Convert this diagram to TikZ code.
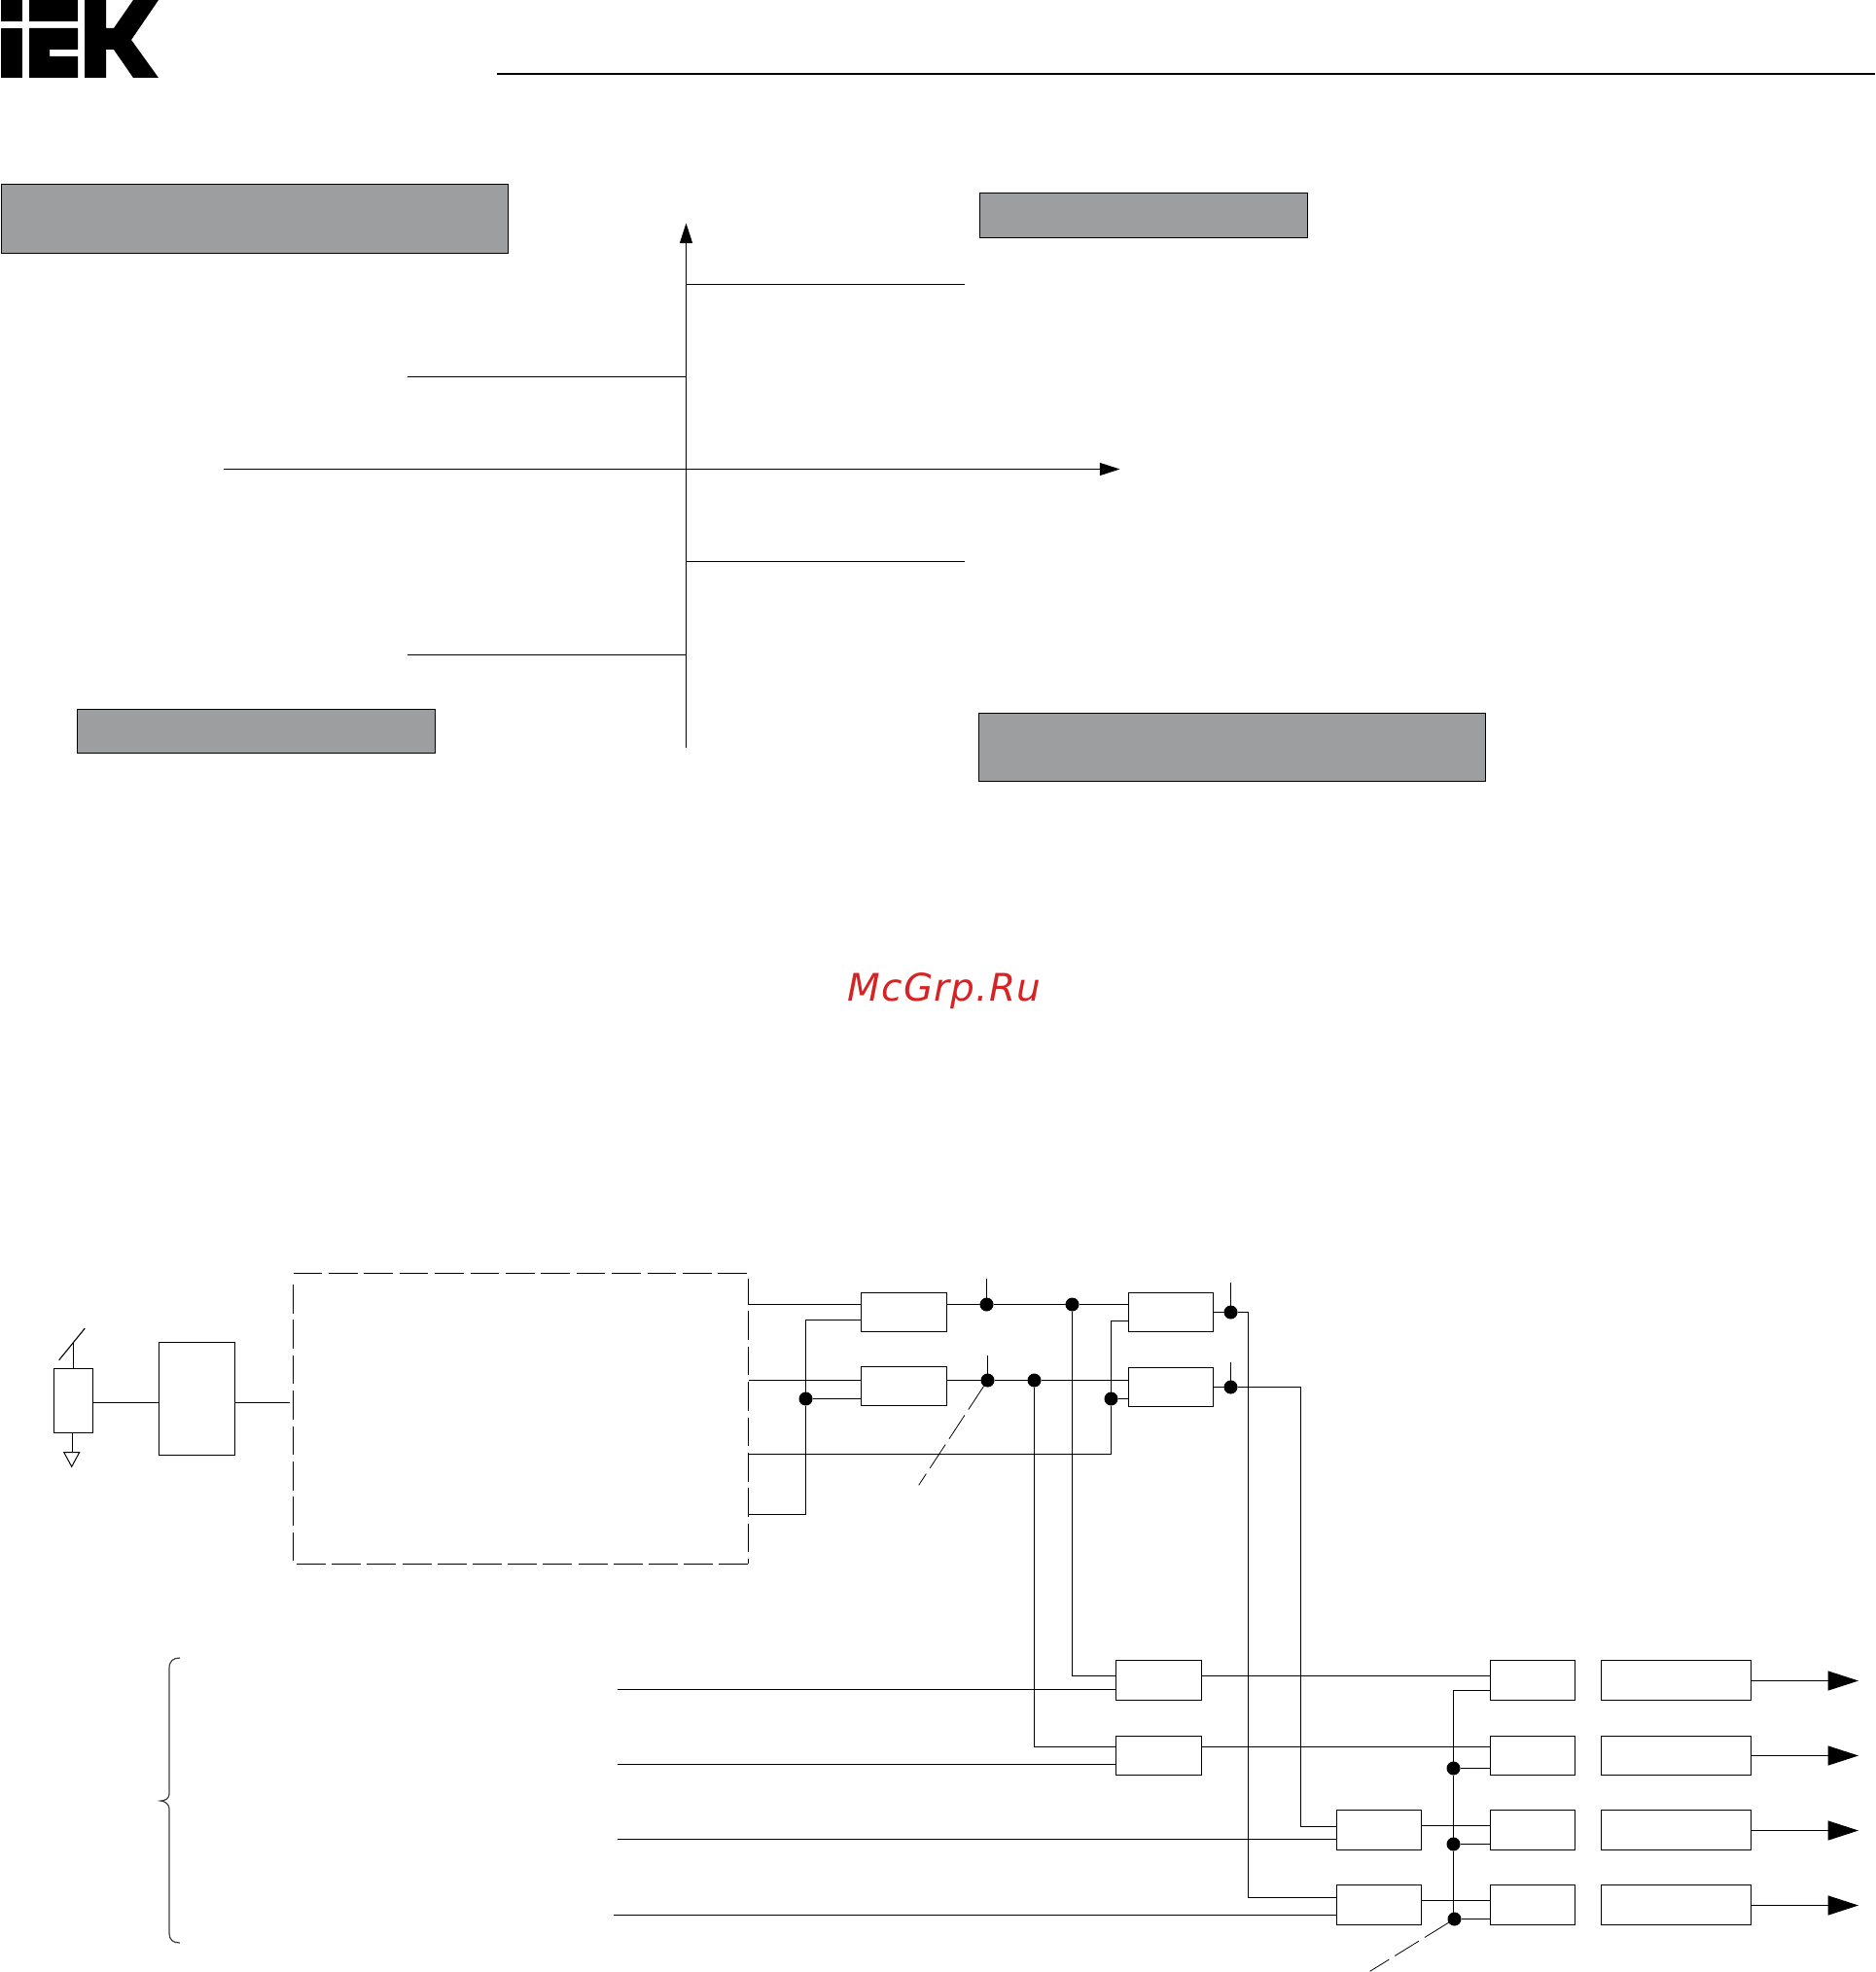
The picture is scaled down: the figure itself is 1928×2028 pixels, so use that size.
\documentclass[tikz,border=0pt]{standalone}
\usepackage{fontspec}
\newfontfamily\markfont{DejaVu Sans}
\usetikzlibrary{arrows.meta, calc}
\definecolor{panelgray}{RGB}{157, 158, 159}
\definecolor{markred}{RGB}{214, 35, 35}
\tikzset{
  wire/.style={line width=0.55pt},
  panel/.style={draw, line width=0.55pt, fill=panelgray, inner sep=0pt, outer sep=0pt},
  blk/.style={draw, line width=0.55pt, inner sep=0pt, outer sep=0pt},
  relay/.style={blk, minimum width=44pt, minimum height=20pt},
  narrow/.style={minimum width=43.5pt},
  tall/.style={minimum height=20.5pt},
  outbox/.style={blk, minimum width=77pt, minimum height=20pt},
  joint/.style={circle, fill=black, minimum size=7pt, inner sep=0pt, outer sep=0pt},
  leader/.style={line width=0.4pt, dash pattern=on 14.5pt off 3.5pt},
  axis/.style={line width=0.55pt, -{Triangle[length=10.3pt, width=6.5pt]}},
  power/.style={line width=0.55pt, -{Triangle[length=15.7pt, width=10pt]}},
  side/.style={line width=0.55pt, dash pattern=on 14.8pt off 3.4pt}
}

\begin{document}
\begin{tikzpicture}[x=0.5pt, y=-0.5pt]
  \useasboundingbox (0,0) rectangle (1928,2028);

  % logo
  \fill (1,0) rectangle (22.5,22);
  \fill (1,29) rectangle (22.5,80);
  \fill (30,0) rectangle (80,22);
  \fill (30,29) -- (80,29) -- (80,51) -- (51,51) -- (51,58) -- (80,58) -- (80,80) -- (30,80) -- cycle;
  \fill (87,0) -- (109,0) -- (109,29) -- (117,29) -- (137,0) -- (163,0) -- (135,41) -- (163,80)
    -- (137,80) -- (117,51) -- (109,51) -- (109,80) -- (87,80) -- cycle;
  \coordinate (ruleL) at (511,76);
  \coordinate (ruleR) at (1928,76);
  \draw[line width=1pt] (ruleL) -- (ruleR);

  % characteristic
  \node[panel, minimum width=260.5pt, minimum height=35.5pt] (panelA) at (262,225) {};
  \node[panel, minimum width=168.5pt, minimum height=23pt] (panelB) at (1176,221.5) {};
  \node[panel, minimum width=184pt, minimum height=22.5pt] (panelC) at (263.5,752) {};
  \node[panel, minimum width=260.5pt, minimum height=35pt] (panelD) at (1267,768.5) {};

  \coordinate (axisB) at (705.5,769);
  \coordinate (axisT) at (705.5,229.5);
  \coordinate (axisL) at (230,482.5);
  \coordinate (axisR) at (1151.5,482.5);
  \draw[axis] (axisB) -- (axisT);
  \draw[axis] (axisL) -- (axisR);
  \foreach \n/\y/\x in {a/292.5/992, b/387.5/419, c/577.5/992, d/673.5/419} {
    \coordinate (lvl\n) at (\x,\y);
    \draw[wire] (lvl\n) -- (lvl\n -| axisT);
  }

  \node[font=\markfont\fontsize{19.5}{22}\selectfont\itshape\addfontfeature{LetterSpace=3}, text=markred, anchor=base west, inner sep=0pt] (mark) at (871.5,1029) {McGrp.Ru};

  % sensor and supply
  \node[blk, minimum width=20pt, minimum height=33pt] (sens) at (75.5,1440.5) {};
  \node[blk, minimum width=39pt, minimum height=58pt] (psu) at (202.5,1438.5) {};
  \node[inner sep=0pt, outer sep=0pt, minimum width=234pt, minimum height=149.5pt] (ctrl) at (535.5,1459) {};
  \draw[side] (ctrl.north west) -- (ctrl.north east);
  \draw[side, dash phase=1.5pt] ($(ctrl.north east)+(0,5.5)$) -- ($(ctrl.south east)+(0,-1)$);
  \draw[side] ($(ctrl.north west)+(0,11.5)$) -- ($(ctrl.south west)+(0,-2)$);
  \draw[side, dash pattern=on 15pt off 3.1pt] ($(ctrl.south west)+(3.5,0)$) -- (ctrl.south east);
  \coordinate (swC) at (75.5,1380);
  \coordinate (swA) at (60.7,1398.7);
  \coordinate (swB) at (87.3,1366);
  \coordinate (gnd) at (74.5,1493.5);
  \coordinate (ctrlIn) at (297.5,1442.5);
  \draw[wire] (sens.north) -- (swC);
  \draw[wire] (swA) -- (swB);
  \draw[wire] (sens.south -| gnd) -- (gnd);
  \draw[line width=0.5pt] (65.7,1493.5) -- (81.7,1493.5) -- (73.7,1508.3) -- cycle;
  \draw[wire] (sens.east |- ctrlIn) -- (psu.west |- ctrlIn);
  \draw[wire] (psu.east |- ctrlIn) -- (ctrlIn);

  % first relays
  \node[relay] (a1) at (929.5,1349.5) {};
  \node[relay] (a2) at (929.5,1425.5) {};
  \node[relay, narrow] (b1) at (1204,1349.5) {};
  \node[relay, narrow] (b2) at (1204,1426.5) {};
  \node[joint] (j1) at (1014.5,1341.5) {};
  \node[joint] (j2) at (1102.5,1341.5) {};
  \node[joint] (j3) at (1015.5,1419.5) {};
  \node[joint] (j4) at (1063.5,1419.5) {};
  \node[joint] (j5) at (828.5,1438.5) {};
  \node[joint] (j6) at (1142.5,1438.5) {};
  \node[joint] (j7) at (1265.5,1349.5) {};
  \node[joint] (j8) at (1265.5,1426.5) {};

  \coordinate (p1) at (770,1341.5);
  \coordinate (p2) at (770,1419.5);
  \coordinate (p3) at (770,1495.5);
  \coordinate (p4) at (770,1557.5);
  \draw[wire] (p1) -- (p1 -| a1.west);
  \draw[wire] (p2) -- (p2 -| a2.west);
  \draw[wire] (a1.east |- j1) -- (j1) -- (j2) -- (j2 -| b1.west);
  \draw[wire] (a2.east |- j3) -- (j3) -- (j4) -- (j4 -| b2.west);
  \draw[wire] (j5) -- (j5 -| a2.west);
  \draw[wire] (j6) -- (j6 -| b2.west);
  \draw[wire] (p4) -- (p4 -| j5) -- (j5) -- (j5 |- 0,1357.5) -- (a1.west |- 0,1357.5);
  \draw[wire] (p3) -- (p3 -| j6) -- (j6) -- (j6 |- 0,1358.5) -- (b1.west |- 0,1358.5);
  \draw[wire] (b1.east |- j7) -- (j7);
  \draw[wire] (b2.east |- j8) -- (j8);
  \draw[wire] (j1) -- (j1 |- 0,1315);
  \draw[wire] (j3) -- (j3 |- 0,1393.5);
  \draw[wire] (j7) -- (j7 |- 0,1318.5);
  \draw[wire] (j8) -- (j8 |- 0,1401);
  \coordinate (tagA) at (944.7,1527.3);
  \draw[leader] (j3) -- (tagA);

  % output rows
  \node[relay, tall] (f1) at (1191.5,1728) {};
  \node[relay] (f2) at (1191.5,1805.5) {};
  \node[relay, narrow, tall] (e3) at (1418,1882) {};
  \node[relay, narrow, tall] (e4) at (1418,1959) {};
  \foreach \i/\y/\h/\o in {1/1728/20.5/1728.5, 2/1805.5/20/1805.5, 3/1882/20.5/1882.5, 4/1959/20.5/1959.5} {
    \node[relay, narrow, minimum height=\h pt] (c\i) at (1576,\y) {};
    \node[outbox, minimum height=\h pt] (d\i) at (1723.5,\y) {};
    \coordinate (out\i) at (1911,\o);
    \draw[power] (out\i -| d\i.east) -- (out\i);
  }
  \node[joint] (j9) at (1494.5,1818.5) {};
  \node[joint] (j10) at (1494.5,1896.5) {};
  \node[joint] (j11) at (1495.5,1973.5) {};

  \draw[wire] (j2) -- (j2 |- 0,1723.5) -- (f1.west |- 0,1723.5);
  \draw[wire] (j4) -- (j4 |- 0,1796.5) -- (f2.west |- 0,1796.5);
  \draw[wire] (j8) -- (1337.5,1426.5) -- (1337.5,1878.5) -- (e3.west |- 0,1878.5);
  \draw[wire] (j7) -- (1283.5,1349.5) -- (1283.5,1951.5) -- (e4.west |- 0,1951.5);
  \draw[wire] (f1.east |- 0,1723.5) -- (c1.west |- 0,1723.5);
  \draw[wire] (f2.east |- 0,1796.5) -- (c2.west |- 0,1796.5);
  \draw[wire] (e3.east |- 0,1877.5) -- (c3.west |- 0,1877.5);
  \draw[wire] (e4.east |- 0,1954.5) -- (c4.west |- 0,1954.5);

  \coordinate (i1) at (635,1737.5);
  \coordinate (i2) at (635,1814.5);
  \coordinate (i3) at (635,1891.5);
  \coordinate (i4) at (631,1969.5);
  \draw[wire] (i1) -- (i1 -| f1.west);
  \draw[wire] (i2) -- (i2 -| f2.west);
  \draw[wire] (i3) -- (i3 -| e3.west);
  \draw[wire] (i4) -- (i4 -| e4.west);

  \draw[wire] (c1.west |- 0,1738.5) -- (j9 |- 0,1738.5) -- (j9) -- (j10) -- (j10 |- j11);
  \draw[wire] (j9) -- (j9 -| c2.west);
  \draw[wire] (j10) -- (j10 -| c3.west);
  \draw[wire] (j11) -- (j11 -| c4.west);
  \coordinate (tagB) at (1408.6,2027.3);
  \draw[leader] (j11) -- (tagB);

  % brace
  \draw[line width=0.6pt, black!75] (185,1705) .. controls (178,1705) and (174,1708) .. (174,1716) -- (174,1845)
    .. controls (174,1849) and (170,1852) .. (165,1852) .. controls (170,1852) and (174,1856) .. (174,1860)
    -- (174,1988) .. controls (174,1995) and (178,1998) .. (185,1998);
\end{tikzpicture}
\end{document}
